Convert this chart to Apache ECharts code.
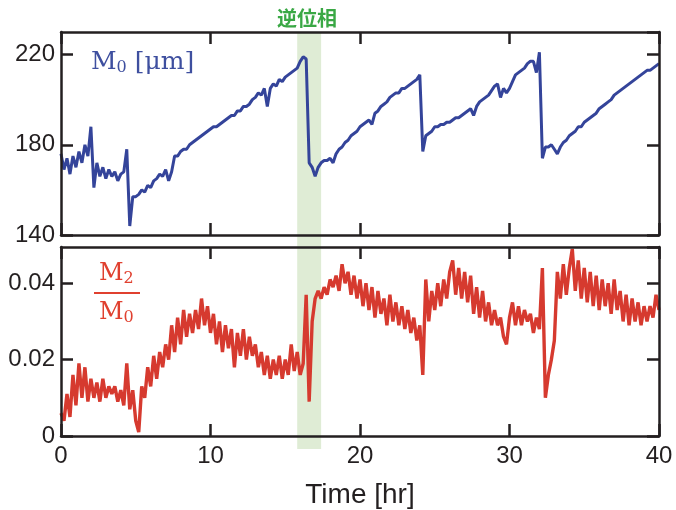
<!DOCTYPE html>
<html>
<head>
<meta charset="utf-8">
<script src="https://cdn.jsdelivr.net/npm/echarts@6/dist/echarts.min.js"></script>
<style>
  html, body { margin: 0; padding: 0; background: #ffffff; }
  #chart { width: 676px; height: 510px; }
</style>
</head>
<body>
<div id="chart"></div>
<script>
// sample step of the time axis [hr]
var tStep = 0.2
// M0 [um], one value every 0.2 hr from 0 to 40
var m0 = [
  176, 169, 174, 167, 175, 170, 177, 172, 180, 175,
  188, 161, 172, 166, 170, 165, 169, 166, 168, 164,
  167, 168, 178, 144, 157, 157, 158, 160, 159, 162,
  161, 164, 165, 167, 166, 169, 164, 168, 175, 175,
  177, 178, 178, 180, 181, 182, 183, 184, 185, 186,
  187, 188, 188, 189, 190, 191, 192, 193, 193, 195,
  195, 197, 197, 198, 200, 201, 203, 202, 205, 197,
  205, 207, 206, 209, 208, 210, 211, 212, 213, 214,
  217, 219, 218, 172, 170, 166, 170, 172, 173, 173,
  174, 172, 176, 178, 179, 181, 182, 184, 185, 186,
  188, 189, 190, 191, 189, 194, 195, 197, 198, 199,
  201, 202, 203, 203, 205, 205, 206, 207, 208, 209,
  211, 177, 184, 185, 186, 188, 188, 189, 189, 190,
  190, 191, 192, 192, 193, 194, 195, 196, 193, 197,
  199, 200, 201, 202, 204, 206, 207, 201, 205, 203,
  205, 208, 211, 212, 213, 214, 216, 217, 217, 212,
  221, 174, 179, 179, 180, 178, 176, 179, 181, 182,
  184, 185, 186, 188, 188, 190, 191, 192, 193, 194,
  196, 197, 198, 199, 200, 202, 203, 204, 205, 206,
  207, 208, 209, 210, 211, 212, 213, 213, 214, 215,
  216
]
// M2 / M0, same time grid
var ratio = [
  0.006, 0.004, 0.011, 0.005, 0.016, 0.008, 0.019, 0.010, 0.018, 0.009,
  0.015, 0.010, 0.014, 0.009, 0.015, 0.010, 0.013, 0.011, 0.013, 0.009,
  0.012, 0.008, 0.019, 0.007, 0.012, 0.004, 0.001, 0.013, 0.010, 0.018,
  0.013, 0.021, 0.015, 0.022, 0.018, 0.024, 0.020, 0.029, 0.022, 0.031,
  0.024, 0.033, 0.026, 0.032, 0.027, 0.033, 0.028, 0.036, 0.029, 0.034,
  0.027, 0.032, 0.024, 0.030, 0.022, 0.029, 0.023, 0.028, 0.018, 0.027,
  0.021, 0.028, 0.020, 0.026, 0.021, 0.024, 0.018, 0.022, 0.016, 0.021,
  0.015, 0.020, 0.016, 0.021, 0.015, 0.020, 0.016, 0.024, 0.017, 0.022,
  0.016, 0.019, 0.037, 0.009, 0.030, 0.036, 0.038, 0.036, 0.039, 0.037,
  0.041, 0.039, 0.042, 0.038, 0.045, 0.040, 0.043, 0.037, 0.042, 0.036,
  0.041, 0.034, 0.040, 0.033, 0.039, 0.031, 0.038, 0.032, 0.036, 0.029,
  0.037, 0.030, 0.035, 0.029, 0.034, 0.028, 0.033, 0.027, 0.031, 0.025,
  0.029, 0.016, 0.041, 0.030, 0.038, 0.033, 0.040, 0.034, 0.041, 0.036,
  0.043, 0.046, 0.037, 0.044, 0.036, 0.043, 0.035, 0.042, 0.032, 0.039,
  0.031, 0.038, 0.030, 0.035, 0.029, 0.033, 0.029, 0.031, 0.026, 0.024,
  0.031, 0.035, 0.029, 0.034, 0.029, 0.033, 0.030, 0.032, 0.027, 0.031,
  0.028, 0.044, 0.010, 0.016, 0.020, 0.025, 0.043, 0.036, 0.045, 0.037,
  0.044, 0.049, 0.038, 0.046, 0.036, 0.044, 0.035, 0.043, 0.034, 0.042,
  0.033, 0.041, 0.034, 0.040, 0.032, 0.041, 0.033, 0.038, 0.030, 0.037,
  0.029, 0.036, 0.030, 0.035, 0.029, 0.034, 0.030, 0.034, 0.031, 0.037,
  0.033
]
// anti-phase band [hr]
var bandStart = 15.8
var bandEnd = 17.4
var xTicks = { min: 0, max: 40, interval: 10 }

var chart = echarts.init(document.getElementById('chart'))
var axisColor = '#231f20'
var font = 'Liberation Sans, Arial, sans-serif'
var serif = 'DejaVu Serif, Liberation Serif, serif'

function pairs(vals) {
  var out = []
  for (var i = 0; i < vals.length; i++) {
    out.push([+(i * tStep).toFixed(1), vals[i]])
  }
  return out
}

function frameAxis(extra) {
  var base = {
    z: 5,
    splitLine: { show: false },
    axisLine: { show: true, onZero: false, lineStyle: { color: axisColor, width: 2.5 } },
    axisTick: { show: true, inside: true, length: 12, lineStyle: { color: axisColor, width: 2.5 } },
    axisLabel: { show: false }
  }
  return Object.assign(base, extra)
}

var tickLabel = { show: true, color: axisColor, fontSize: 24, fontFamily: font, margin: 6, showMaxLabel: false }

var option = {
  animation: false,
  backgroundColor: '#ffffff',
  grid: [
    { left: 61, top: 32, width: 598, height: 203 },
    { left: 61, top: 247, width: 598, height: 202 },
    { left: 61, top: 32, width: 598, height: 417, show: false }
  ],
  xAxis: [
    frameAxis({ type: 'value', gridIndex: 0, position: 'bottom', min: xTicks.min, max: xTicks.max, interval: xTicks.interval }),
    frameAxis({ type: 'value', gridIndex: 0, position: 'top', min: xTicks.min, max: xTicks.max, interval: xTicks.interval }),
    frameAxis({
      type: 'value', gridIndex: 1, position: 'bottom', min: xTicks.min, max: xTicks.max, interval: xTicks.interval,
      axisLabel: Object.assign({}, tickLabel, { margin: 8, showMaxLabel: true }),
      name: 'Time [hr]', nameLocation: 'middle', nameGap: 45,
      nameTextStyle: { color: axisColor, fontSize: 28, fontFamily: font }
    }),
    frameAxis({ type: 'value', gridIndex: 1, position: 'top', min: xTicks.min, max: xTicks.max, interval: xTicks.interval }),
    { type: 'value', gridIndex: 2, min: xTicks.min, max: xTicks.max, show: false }
  ],
  yAxis: [
    frameAxis({ type: 'value', gridIndex: 0, position: 'left', min: 140, max: 230, interval: 40, axisLabel: tickLabel }),
    frameAxis({ type: 'value', gridIndex: 0, position: 'right', min: 140, max: 230, interval: 40 }),
    frameAxis({ type: 'value', gridIndex: 1, position: 'left', min: 0, max: 0.0495, interval: 0.02, axisLabel: tickLabel }),
    frameAxis({ type: 'value', gridIndex: 1, position: 'right', min: 0, max: 0.0495, interval: 0.02 }),
    { type: 'value', gridIndex: 2, min: 0, max: 1, show: false }
  ],
  series: [
    {
      name: 'band',
      type: 'line',
      xAxisIndex: 4,
      yAxisIndex: 4,
      z: 1,
      silent: true,
      showSymbol: false,
      lineStyle: { opacity: 0 },
      data: [[bandStart, 0.5], [bandEnd, 0.5]],
      markArea: {
        silent: true,
        itemStyle: { color: '#dfecd5' },
        data: [[{ xAxis: bandStart }, { xAxis: bandEnd }]]
      }
    },
    {
      name: 'M0',
      type: 'line',
      xAxisIndex: 0,
      yAxisIndex: 0,
      z: 2,
      showSymbol: false,
      lineStyle: { color: '#34449a', width: 3 },
      data: pairs(m0)
    },
    {
      name: 'M2/M0',
      type: 'line',
      xAxisIndex: 2,
      yAxisIndex: 2,
      z: 2,
      showSymbol: false,
      lineStyle: { color: '#d63a2f', width: 3.4 },
      data: pairs(ratio)
    }
  ],
  graphic: [
    {
      type: 'text', left: 277, top: 8, z: 10,
      style: {
        text: '逆位相', fill: '#3aa845',
        fontSize: 20, fontWeight: 'bold', fontFamily: 'Noto Sans CJK JP'
      }
    },
    {
      type: 'text', left: 91, top: 50, z: 10,
      style: {
        text: '{m|M}{s|0}{m| [μm]}',
        rich: {
          m: { fill: '#3e4f9f', fontSize: 25, fontFamily: serif },
          s: { fill: '#3e4f9f', fontSize: 16, fontFamily: serif, padding: [10, 0, 0, 0] }
        }
      }
    },
    {
      type: 'text', left: 99, top: 262, z: 10,
      style: {
        text: '{m|M}{s|2}',
        rich: {
          m: { fill: '#e0402f', fontSize: 24, fontFamily: serif },
          s: { fill: '#e0402f', fontSize: 16, fontFamily: serif, padding: [10, 0, 0, 0] }
        }
      }
    },
    {
      type: 'line', z: 10,
      shape: { x1: 94, y1: 293, x2: 140, y2: 293 },
      style: { stroke: '#e0402f', lineWidth: 2 }
    },
    {
      type: 'text', left: 99, top: 301, z: 10,
      style: {
        text: '{m|M}{s|0}',
        rich: {
          m: { fill: '#e0402f', fontSize: 24, fontFamily: serif },
          s: { fill: '#e0402f', fontSize: 16, fontFamily: serif, padding: [10, 0, 0, 0] }
        }
      }
    }
  ]
}

chart.setOption(option)
</script>
</body>
</html>
